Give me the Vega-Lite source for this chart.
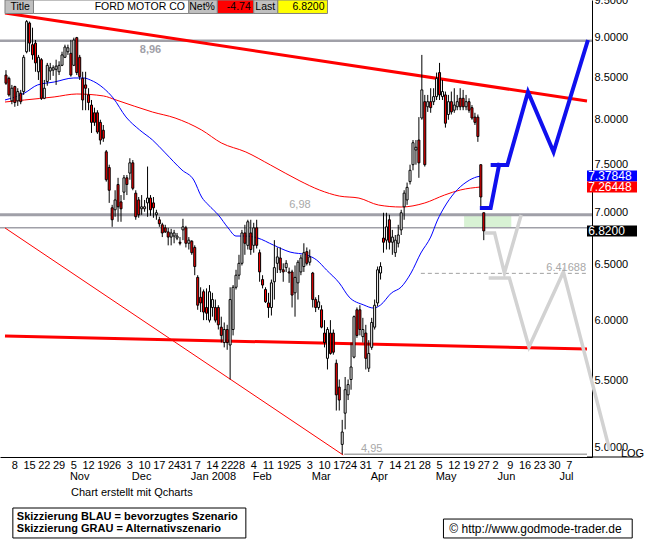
{
"$schema": "https://vega.github.io/schema/vega-lite/v6.json",
"width": 592, "height": 457,
"autosize": {"type": "none"},
"padding": {"left": 0, "top": 0, "right": 55, "bottom": 82},
"background": "white",
"config": {"view": {"stroke": null}, "font": "Liberation Sans"},
"datasets": {
"candles": [
{"i":-3,"o":8.53,"h":8.59,"l":8.41,"c":8.43},{"i":-2,"o":8.49,"h":8.51,"l":8.27,"c":8.29},{"i":-1,"o":8.22,"h":8.41,"l":8.18,"c":8.37},{"i":0,"o":8.39,"h":8.40,"l":8.15,"c":8.20},{"i":1,"o":8.22,"h":8.37,"l":8.16,"c":8.33},{"i":2,"o":8.31,"h":8.35,"l":8.18,"c":8.21},{"i":3,"o":8.33,"h":8.78,"l":8.29,"c":8.75},{"i":4,"o":8.82,"h":9.23,"l":8.80,"c":9.21},{"i":5,"o":9.19,"h":9.21,"l":8.82,"c":8.93},{"i":6,"o":8.91,"h":9.13,"l":8.72,"c":8.78},{"i":7,"o":8.93,"h":8.97,"l":8.57,"c":8.68},{"i":8,"o":8.57,"h":8.78,"l":8.47,"c":8.75},{"i":9,"o":8.72,"h":8.74,"l":8.23,"c":8.25},{"i":10,"o":8.25,"h":8.47,"l":8.24,"c":8.37},{"i":11,"o":8.45,"h":8.68,"l":8.40,"c":8.65},{"i":12,"o":8.58,"h":8.68,"l":8.47,"c":8.62},{"i":13,"o":8.59,"h":8.65,"l":8.52,"c":8.62},{"i":14,"o":8.60,"h":8.72,"l":8.41,"c":8.64},{"i":15,"o":8.57,"h":8.70,"l":8.53,"c":8.65},{"i":16,"o":8.65,"h":8.82,"l":8.64,"c":8.78},{"i":17,"o":8.75,"h":8.91,"l":8.74,"c":8.88},{"i":18,"o":8.82,"h":8.91,"l":8.78,"c":8.87},{"i":19,"o":8.80,"h":8.97,"l":8.51,"c":8.53},{"i":20,"o":8.65,"h":9.00,"l":8.64,"c":8.97},{"i":21,"o":9.00,"h":9.01,"l":8.53,"c":8.56},{"i":22,"o":8.75,"h":8.78,"l":8.47,"c":8.51},{"i":23,"o":8.49,"h":8.57,"l":8.11,"c":8.23},{"i":24,"o":8.41,"h":8.57,"l":8.11,"c":8.37},{"i":25,"o":8.29,"h":8.37,"l":8.11,"c":8.20},{"i":26,"o":8.17,"h":8.23,"l":7.85,"c":7.97},{"i":27,"o":8.08,"h":8.14,"l":7.93,"c":7.97},{"i":28,"o":8.08,"h":8.11,"l":7.84,"c":7.86},{"i":29,"o":7.97,"h":8.00,"l":7.72,"c":7.77},{"i":30,"o":7.88,"h":7.94,"l":7.75,"c":7.79},
{"i":31,"o":7.64,"h":7.66,"l":7.32,"c":7.34},{"i":32,"o":7.47,"h":7.50,"l":7.10,"c":7.23},{"i":33,"o":7.05,"h":7.08,"l":6.86,"c":6.93},{"i":34,"o":7.03,"h":7.23,"l":6.96,"c":7.13},{"i":35,"o":7.29,"h":7.36,"l":6.91,"c":7.06},{"i":36,"o":7.11,"h":7.18,"l":6.91,"c":7.04},{"i":37,"o":7.21,"h":7.39,"l":7.13,"c":7.36},{"i":38,"o":7.36,"h":7.39,"l":7.18,"c":7.29},{"i":39,"o":7.41,"h":7.57,"l":7.34,"c":7.52},{"i":40,"o":7.52,"h":7.55,"l":7.23,"c":7.25},{"i":41,"o":7.20,"h":7.23,"l":6.93,"c":6.96},{"i":42,"o":7.13,"h":7.16,"l":6.95,"c":6.98},{"i":43,"o":7.04,"h":7.18,"l":6.98,"c":7.06},{"i":44,"o":7.04,"h":7.13,"l":7.01,"c":7.06},{"i":45,"o":7.10,"h":7.48,"l":6.96,"c":7.15},{"i":46,"o":7.15,"h":7.18,"l":6.97,"c":7.03},{"i":47,"o":7.10,"h":7.16,"l":6.95,"c":7.05},{"i":48,"o":6.98,"h":7.03,"l":6.93,"c":7.00},{"i":49,"o":6.93,"h":6.96,"l":6.86,"c":6.89},{"i":50,"o":6.88,"h":6.90,"l":6.76,"c":6.80},{"i":51,"o":6.85,"h":6.88,"l":6.80,"c":6.81},{"i":52,"o":6.81,"h":6.85,"l":6.68,"c":6.76},{"i":53,"o":6.76,"h":6.84,"l":6.68,"c":6.80},{"i":54,"o":6.77,"h":6.83,"l":6.70,"c":6.80},{"i":55,"o":6.75,"h":6.80,"l":6.73,"c":6.77},{"i":56,"o":6.71,"h":6.76,"l":6.68,"c":6.70},{"i":57,"o":6.83,"h":6.94,"l":6.73,"c":6.86},{"i":58,"o":6.85,"h":6.87,"l":6.66,"c":6.70},{"i":59,"o":6.70,"h":6.76,"l":6.64,"c":6.73},{"i":60,"o":6.72,"h":6.73,"l":6.59,"c":6.61},
{"i":61,"o":6.66,"h":6.68,"l":6.40,"c":6.48},{"i":62,"o":6.38,"h":6.40,"l":6.09,"c":6.13},{"i":63,"o":6.20,"h":6.29,"l":6.07,"c":6.15},{"i":64,"o":6.25,"h":6.27,"l":6.00,"c":6.07},{"i":65,"o":6.11,"h":6.28,"l":6.00,"c":6.06},{"i":66,"o":6.00,"h":6.31,"l":5.98,"c":6.25},{"i":67,"o":6.11,"h":6.24,"l":6.03,"c":6.18},{"i":68,"o":6.11,"h":6.18,"l":5.98,"c":6.00},{"i":69,"o":6.11,"h":6.13,"l":5.92,"c":5.96},{"i":70,"o":5.94,"h":6.03,"l":5.81,"c":5.87},{"i":71,"o":5.81,"h":5.98,"l":5.77,"c":5.92},{"i":72,"o":5.92,"h":5.96,"l":5.75,"c":5.81},{"i":73,"o":5.79,"h":6.29,"l":5.51,"c":6.18},{"i":74,"o":5.92,"h":6.31,"l":5.87,"c":6.29},{"i":75,"o":6.29,"h":6.45,"l":6.27,"c":6.40},{"i":76,"o":6.40,"h":6.59,"l":6.36,"c":6.51},{"i":77,"o":6.51,"h":6.83,"l":6.49,"c":6.80},{"i":78,"o":6.80,"h":6.88,"l":6.59,"c":6.70},{"i":79,"o":6.68,"h":6.93,"l":6.64,"c":6.91},{"i":80,"o":6.80,"h":6.93,"l":6.59,"c":6.64},{"i":81,"o":6.68,"h":6.90,"l":6.61,"c":6.85},{"i":82,"o":6.85,"h":6.93,"l":6.65,"c":6.68},{"i":83,"o":6.61,"h":6.64,"l":6.34,"c":6.43},{"i":84,"o":6.36,"h":6.40,"l":6.28,"c":6.31},{"i":85,"o":6.27,"h":6.29,"l":6.15,"c":6.16},{"i":86,"o":6.15,"h":6.24,"l":6.02,"c":6.11},{"i":87,"o":6.11,"h":6.36,"l":6.04,"c":6.33},{"i":88,"o":6.34,"h":6.73,"l":6.18,"c":6.47},{"i":89,"o":6.51,"h":6.66,"l":6.42,"c":6.57},{"i":90,"o":6.56,"h":6.66,"l":6.42,"c":6.45},
{"i":91,"o":6.45,"h":6.51,"l":6.34,"c":6.43},{"i":92,"o":6.47,"h":6.54,"l":6.43,"c":6.51},{"i":93,"o":6.43,"h":6.47,"l":6.33,"c":6.42},{"i":94,"o":6.43,"h":6.45,"l":6.11,"c":6.22},{"i":95,"o":6.24,"h":6.49,"l":6.03,"c":6.38},{"i":96,"o":6.33,"h":6.54,"l":6.18,"c":6.52},{"i":97,"o":6.43,"h":6.59,"l":6.40,"c":6.56},{"i":98,"o":6.48,"h":6.70,"l":6.43,"c":6.61},{"i":99,"o":6.62,"h":6.66,"l":6.49,"c":6.51},{"i":100,"o":6.52,"h":6.64,"l":6.49,"c":6.57},{"i":101,"o":6.42,"h":6.43,"l":6.11,"c":6.18},{"i":102,"o":6.18,"h":6.20,"l":6.07,"c":6.11},{"i":103,"o":6.11,"h":6.22,"l":6.09,"c":6.16},{"i":104,"o":6.09,"h":6.13,"l":5.93,"c":5.94},{"i":105,"o":5.89,"h":6.00,"l":5.77,"c":5.81},{"i":106,"o":5.68,"h":5.94,"l":5.59,"c":5.92},{"i":107,"o":5.89,"h":6.00,"l":5.71,"c":5.72},{"i":108,"o":5.89,"h":5.92,"l":5.71,"c":5.73},{"i":109,"o":5.64,"h":5.67,"l":5.27,"c":5.39},{"i":110,"o":5.45,"h":5.51,"l":5.27,"c":5.35},{"i":111,"o":5.02,"h":5.20,"l":4.95,"c":5.11},{"i":112,"o":5.25,"h":5.53,"l":5.13,"c":5.43},{"i":113,"o":5.39,"h":5.51,"l":5.35,"c":5.47},{"i":114,"o":5.51,"h":5.81,"l":5.43,"c":5.61},{"i":115,"o":5.69,"h":6.04,"l":5.68,"c":6.03},{"i":116,"o":6.09,"h":6.11,"l":5.85,"c":5.87},{"i":117,"o":6.09,"h":6.13,"l":5.87,"c":5.92},{"i":118,"o":5.86,"h":6.02,"l":5.81,"c":5.92},{"i":119,"o":5.89,"h":5.96,"l":5.59,"c":5.68},{"i":120,"o":5.60,"h":5.83,"l":5.57,"c":5.72},
{"i":121,"o":5.77,"h":6.02,"l":5.75,"c":5.98},{"i":122,"o":5.94,"h":6.18,"l":5.92,"c":6.13},{"i":123,"o":6.15,"h":6.48,"l":6.12,"c":6.45},{"i":124,"o":6.42,"h":6.52,"l":6.36,"c":6.48},{"i":125,"o":6.75,"h":7.00,"l":6.61,"c":6.71},{"i":126,"o":6.73,"h":7.00,"l":6.64,"c":6.86},{"i":127,"o":6.93,"h":6.98,"l":6.64,"c":6.71},{"i":128,"o":6.71,"h":6.83,"l":6.59,"c":6.76},{"i":129,"o":6.61,"h":6.78,"l":6.57,"c":6.73},{"i":130,"o":6.70,"h":6.88,"l":6.66,"c":6.78},{"i":131,"o":6.83,"h":7.03,"l":6.78,"c":7.00},{"i":132,"o":7.06,"h":7.23,"l":6.93,"c":7.20},{"i":133,"o":7.13,"h":7.31,"l":7.08,"c":7.26},{"i":134,"o":7.32,"h":7.50,"l":7.29,"c":7.44},{"i":135,"o":7.50,"h":7.77,"l":7.44,"c":7.74},{"i":136,"o":7.66,"h":7.77,"l":7.50,"c":7.69},{"i":137,"o":7.77,"h":8.03,"l":7.36,"c":7.52},{"i":138,"o":8.02,"h":8.78,"l":8.00,"c":8.35},{"i":139,"o":8.21,"h":8.29,"l":7.48,"c":7.50},{"i":140,"o":8.15,"h":8.29,"l":8.09,"c":8.21},{"i":141,"o":8.21,"h":8.37,"l":8.08,"c":8.14},{"i":142,"o":8.21,"h":8.37,"l":8.17,"c":8.27},{"i":143,"o":8.27,"h":8.56,"l":8.23,"c":8.49},{"i":144,"o":8.56,"h":8.68,"l":8.23,"c":8.29},{"i":145,"o":8.27,"h":8.47,"l":8.23,"c":8.33},{"i":146,"o":8.29,"h":8.33,"l":7.91,"c":7.96},{"i":147,"o":8.06,"h":8.29,"l":8.00,"c":8.21},{"i":148,"o":8.21,"h":8.33,"l":8.06,"c":8.09},{"i":149,"o":8.11,"h":8.37,"l":8.08,"c":8.17},{"i":150,"o":8.15,"h":8.29,"l":8.11,"c":8.21},
{"i":151,"o":8.25,"h":8.37,"l":8.11,"c":8.15},{"i":152,"o":8.25,"h":8.35,"l":8.11,"c":8.15},{"i":153,"o":8.15,"h":8.29,"l":8.11,"c":8.21},{"i":154,"o":8.21,"h":8.25,"l":8.08,"c":8.11},{"i":155,"o":8.14,"h":8.17,"l":8.00,"c":8.02},{"i":156,"o":8.03,"h":8.08,"l":7.94,"c":7.97},{"i":157,"o":8.03,"h":8.06,"l":7.75,"c":7.81},{"i":158,"o":7.50,"h":7.50,"l":7.06,"c":7.16},{"i":159,"o":7.00,"h":7.00,"l":6.73,"c":6.82}
],
"ma50": [
{"i":-3.33,"v":8.23},{"i":3.33,"v":8.313},{"i":7.67,"v":8.409},{"i":13.33,"v":8.445},{"i":20,"v":8.494},{"i":23.33,"v":8.494},{"i":25.67,"v":8.469},{"i":30,"v":8.373},{"i":33.33,"v":8.254},{"i":37.67,"v":8.032},{"i":42.33,"v":7.883},{"i":46.67,"v":7.771},{"i":51,"v":7.628},{"i":56.67,"v":7.443},{"i":60.67,"v":7.337},{"i":63.33,"v":7.16},{"i":65.67,"v":7.078},{"i":69,"v":6.978},{"i":72.33,"v":6.849},{"i":75,"v":6.77},{"i":78.33,"v":6.77},{"i":82.33,"v":6.751},{"i":87.67,"v":6.683},{"i":93.33,"v":6.616},{"i":99,"v":6.588},{"i":102.33,"v":6.541},{"i":105.67,"v":6.448},{"i":110,"v":6.329},{"i":113.33,"v":6.203},{"i":118.33,"v":6.132},{"i":121.67,"v":6.105},{"i":124,"v":6.132},{"i":127.67,"v":6.238},{"i":131,"v":6.292},{"i":134.33,"v":6.42},{"i":137.67,"v":6.607},{"i":141,"v":6.76},{"i":143.33,"v":6.928},{"i":145.67,"v":7.058},{"i":149,"v":7.201},{"i":153.33,"v":7.32},{"i":156.67,"v":7.37},{"i":158,"v":7.378}
],
"ma200": [
{"i":-3.33,"v":8.206},{"i":3.33,"v":8.23},{"i":13.33,"v":8.266},{"i":21,"v":8.301},{"i":30,"v":8.278},{"i":34.33,"v":8.23},{"i":46.67,"v":8.089},{"i":54.33,"v":8.02},{"i":63.33,"v":7.883},{"i":70,"v":7.738},{"i":78.33,"v":7.638},{"i":86.67,"v":7.497},{"i":96.67,"v":7.327},{"i":103.33,"v":7.232},{"i":110,"v":7.17},{"i":116.67,"v":7.149},{"i":123.33,"v":7.078},{"i":131,"v":7.058},{"i":139,"v":7.099},{"i":145.67,"v":7.18},{"i":151,"v":7.232},{"i":158,"v":7.264}
],
"trend": [
{"line":"resistance","i":-3.333,"v":9.324},{"line":"resistance","i":194,"v":8.218},
{"line":"support","i":-3.333,"v":5.865},{"line":"support","i":194,"v":5.756}
],
"trendThin": [{"i":-3.333,"v":6.849},{"i":111.33,"v":4.944}],
"blue": [
{"path":"b1","i":157.67,"v":7.048},{"path":"b1","i":161.33,"v":7.048},{"path":"b1","i":164.33,"v":7.519},
{"path":"b2","i":161.33,"v":7.497},{"path":"b2","i":167,"v":7.497},{"path":"b2","i":174,"v":8.325},{"path":"b2","i":182.67,"v":7.638},{"path":"b2","i":194.33,"v":8.97}
],
"grey": [
{"path":"g1","i":159.33,"v":6.8},{"path":"g1","i":162.67,"v":6.8},{"path":"g1","i":166,"v":6.42},{"path":"g1","i":171.67,"v":6.978},
{"path":"g2","i":160.67,"v":6.374},{"path":"g2","i":167.67,"v":6.374},{"path":"g2","i":174.33,"v":5.773},{"path":"g2","i":186,"v":6.43},{"path":"g2","i":201.67,"v":4.98}
],
"lastvals": [
{"box":"ma50","label":"7.37848","v":7.37848},{"box":"ma200","label":"7.26448","v":7.26448},{"box":"last","label":"6.8200","v":6.82}
],
"header": [
{"cell":"Title","from":-3.333,"to":6.33},{"cell":"Name","from":6.33,"to":59},{"cell":"Net%","from":59,"to":68.67},{"cell":"Net","from":68.67,"to":81},{"cell":"Last","from":81,"to":89.17},{"cell":"LastVal","from":89.17,"to":106}
],
"weeks": [
{"d":"8","i":0},{"d":"15","i":5},{"d":"22","i":10},{"d":"29","i":15},{"d":"5","i":20},{"d":"12","i":25},{"d":"19","i":30},{"d":"26","i":34},{"d":"3","i":39},{"d":"10","i":44},{"d":"17","i":49},{"d":"24","i":54},{"d":"31","i":58},{"d":"7","i":62},{"d":"14","i":67},{"d":"22","i":72},{"d":"28","i":76},{"d":"4","i":81},{"d":"11","i":86},{"d":"19","i":91},{"d":"25","i":95},{"d":"3","i":100},{"d":"10","i":105},{"d":"17","i":110},{"d":"24","i":114},{"d":"31","i":119},{"d":"7","i":124},{"d":"14","i":129},{"d":"21","i":134},{"d":"28","i":139},{"d":"5","i":144},{"d":"12","i":149},{"d":"19","i":154},{"d":"27","i":159},{"d":"2","i":163},{"d":"9","i":168},{"d":"16","i":173},{"d":"23","i":178},{"d":"30","i":183},{"d":"7","i":188}
],
"months": [
{"m":"Nov","i":18},{"m":"Dec","i":39},{"m":"Jan 2008","i":59},{"m":"Feb","i":80},{"m":"Mar","i":100},{"m":"Apr","i":120},{"m":"May","i":142},{"m":"Jun","i":163},{"m":"Jul","i":184}
]
},
"layer": [
{"data": {"name": "candles"}, "mark": {"type": "rule", "color": "#000000", "strokeWidth": 1, "opacity": 0},
 "encoding": {
  "x": {"field": "i", "type": "quantitative", "scale": {"domain": [-3.333, 194], "nice": false, "zero": false},
   "axis": {"title": null, "grid": false, "ticks": false, "tickSize": 0, "labels": false, "domainColor": "#000000"}},
  "y": {"field": "l", "type": "quantitative", "scale": {"type": "log", "domain": [4.93, 9.5], "nice": false, "zero": false},
   "axis": {"orient": "right", "title": null, "grid": false, "ticks": false, "tickSize": 0, "labelPadding": 2, "labelAlign": "left", "labelBaseline": "middle", "labelFontSize": 11, "labelColor": "#000000", "domainColor": "#000000", "labelOverlap": false, "labelFlush": false, "labelBound": false, "format": ".4f",
    "values": [5, 5.5, 6, 6.5, 7, 7.5, 8, 8.5, 9, 9.5]}},
  "y2": {"field": "h"}}},
{"data": {"values": [{"from":152.33,"to":168.33,"lo":6.85,"hi":6.98}]},
 "mark": {"type": "rect", "color": "#d8f2d4"},
 "encoding": {"x": {"field": "from", "type": "quantitative"}, "x2": {"field": "to"}, "y": {"field": "lo", "type": "quantitative"}, "y2": {"field": "hi"}}},
{"data": {"values": [{"level": 8.96}]}, "mark": {"type": "rule", "color": "#a0a0a8", "strokeWidth": 2.5},
 "encoding": {"y": {"field": "level", "type": "quantitative"}}},
{"data": {"values": [{"level": 6.98}]}, "mark": {"type": "rule", "color": "#a0a0a8", "strokeWidth": 3},
 "encoding": {"y": {"field": "level", "type": "quantitative"}}},
{"data": {"values": [{"level": 6.85}]}, "mark": {"type": "rule", "color": "#a0a0a8", "strokeWidth": 1.5},
 "encoding": {"y": {"field": "level", "type": "quantitative"}}},
{"data": {"values": [{"level": 4.95, "from": 111.67, "to": 194}]}, "mark": {"type": "rule", "color": "#a8a8a8", "strokeWidth": 1.5},
 "encoding": {"x": {"field": "from", "type": "quantitative"}, "x2": {"field": "to"}, "y": {"field": "level", "type": "quantitative"}}},
{"data": {"values": [{"level": 6.41688, "from": 137.67, "to": 194}]}, "mark": {"type": "rule", "color": "#a0a0a0", "strokeWidth": 1, "strokeDash": [4, 3]},
 "encoding": {"x": {"field": "from", "type": "quantitative"}, "x2": {"field": "to"}, "y": {"field": "level", "type": "quantitative"}}},
{"data": {"name": "trendThin"}, "mark": {"type": "line", "color": "#ff0000", "strokeWidth": 1},
 "encoding": {"x": {"field": "i", "type": "quantitative"}, "y": {"field": "v", "type": "quantitative"}}},
{"data": {"name": "trend"}, "mark": {"type": "line", "color": "#ff0000", "strokeWidth": 3},
 "encoding": {"x": {"field": "i", "type": "quantitative"}, "y": {"field": "v", "type": "quantitative"}, "detail": {"field": "line"}}},
{"data": {"name": "ma200"}, "mark": {"type": "line", "color": "#ff0000", "strokeWidth": 1, "interpolate": "monotone"},
 "encoding": {"x": {"field": "i", "type": "quantitative"}, "y": {"field": "v", "type": "quantitative"}}},
{"data": {"name": "ma50"}, "mark": {"type": "line", "color": "#0000ff", "strokeWidth": 1, "interpolate": "monotone"},
 "encoding": {"x": {"field": "i", "type": "quantitative"}, "y": {"field": "v", "type": "quantitative"}}},
{"data": {"name": "candles"}, "mark": {"type": "rule", "color": "#000000", "strokeWidth": 1},
 "encoding": {"x": {"field": "i", "type": "quantitative"}, "y": {"field": "l", "type": "quantitative"}, "y2": {"field": "h"}}},
{"data": {"name": "candles"}, "mark": {"type": "bar", "size": 2, "stroke": "#000000", "strokeWidth": 1, "orient": "vertical"},
 "encoding": {"x": {"field": "i", "type": "quantitative"}, "y": {"field": "o", "type": "quantitative"}, "y2": {"field": "c"},
  "fill": {"condition": {"test": "datum.c < datum.o", "value": "#ff0000"}, "value": "#ffffff"}}},
{"data": {"name": "grey"}, "mark": {"type": "line", "color": "#d2d2d2", "strokeWidth": 3.5, "strokeCap": "butt"},
 "encoding": {"x": {"field": "i", "type": "quantitative"}, "y": {"field": "v", "type": "quantitative"}, "detail": {"field": "path"}}},
{"data": {"name": "blue"}, "mark": {"type": "line", "color": "#1010ee", "strokeWidth": 4, "strokeCap": "butt"},
 "encoding": {"x": {"field": "i", "type": "quantitative"}, "y": {"field": "v", "type": "quantitative"}, "detail": {"field": "path"}}},
{"data": {"values": [{"label": "8,96", "i": 46, "v": 8.96}]}, "mark": {"type": "text", "color": "#a0a0a8", "fontWeight": "bold", "fontSize": 11, "baseline": "top", "align": "center", "dy": 3},
 "encoding": {"x": {"field": "i", "type": "quantitative"}, "y": {"field": "v", "type": "quantitative"}, "text": {"field": "label"}}},
{"data": {"values": [{"label": "6,98", "i": 96.67, "v": 6.98}]}, "mark": {"type": "text", "color": "#a8a8a8", "fontSize": 11, "baseline": "alphabetic", "align": "center", "dy": -7},
 "encoding": {"x": {"field": "i", "type": "quantitative"}, "y": {"field": "v", "type": "quantitative"}, "text": {"field": "label"}}},
{"data": {"values": [{"label": "4,95", "i": 121, "v": 4.95}]}, "mark": {"type": "text", "color": "#a8a8a8", "fontSize": 11, "baseline": "alphabetic", "align": "center", "dy": -2},
 "encoding": {"x": {"field": "i", "type": "quantitative"}, "y": {"field": "v", "type": "quantitative"}, "text": {"field": "label"}}},
{"data": {"values": [{"label": "6.41688", "i": 193.67, "v": 6.41688}]}, "mark": {"type": "text", "color": "#a8a8a8", "fontSize": 11, "baseline": "alphabetic", "align": "right", "dy": -2},
 "encoding": {"x": {"field": "i", "type": "quantitative"}, "y": {"field": "v", "type": "quantitative"}, "text": {"field": "label"}}},
{"data": {"name": "lastvals"}, "mark": {"type": "point", "shape": "M0,-0.22H2V0.22H0Z", "size": 2500, "filled": true, "opacity": 1, "strokeWidth": 0},
 "encoding": {"x": {"datum": 194, "type": "quantitative"}, "y": {"field": "v", "type": "quantitative"},
  "color": {"field": "box", "type": "nominal", "legend": null, "scale": {"domain": ["ma50", "ma200", "last"], "range": ["#0000ff", "#ff0000", "#000000"]}}}},
{"data": {"name": "lastvals"}, "mark": {"type": "text", "color": "#ffffff", "fontSize": 12, "align": "left", "baseline": "middle"},
 "encoding": {"x": {"datum": 194.4, "type": "quantitative"}, "y": {"field": "v", "type": "quantitative"}, "text": {"field": "label"}}},
{"data": {"name": "header"}, "mark": {"type": "rect", "stroke": "#808080", "strokeWidth": 1},
 "encoding": {"x": {"field": "from", "type": "quantitative"}, "x2": {"field": "to"}, "y": {"datum": 9.5, "type": "quantitative"}, "y2": {"datum": 9.318},
  "fill": {"field": "cell", "type": "nominal", "legend": null, "scale": {"domain": ["Title", "Name", "Net%", "Net", "Last", "LastVal"], "range": ["#c0c0c0", "#ffffff", "#c0c0c0", "#ff0000", "#c0c0c0", "#ffff00"]}}}},
{"data": {"values": [{"label": "Title", "at": 1.83}, {"label": "Net%", "at": 63.5}, {"label": "Last", "at": 84.9}]}, "mark": {"type": "text", "color": "#000000", "fontSize": 10.5, "align": "center", "baseline": "middle"},
 "encoding": {"x": {"field": "at", "type": "quantitative"}, "y": {"datum": 9.405, "type": "quantitative"}, "text": {"field": "label"}}},
{"data": {"values": [{"label": "FORD MOTOR CO", "at": 57.67}, {"label": "-4.74", "at": 80}, {"label": "6.8200", "at": 105}]}, "mark": {"type": "text", "color": "#000000", "fontSize": 10.5, "align": "right", "baseline": "middle"},
 "encoding": {"x": {"field": "at", "type": "quantitative"}, "y": {"datum": 9.405, "type": "quantitative"}, "text": {"field": "label"}}},
{"data": {"name": "weeks"}, "mark": {"type": "text", "color": "#000000", "fontSize": 11, "align": "center", "baseline": "middle"},
 "encoding": {"x": {"field": "i", "type": "quantitative"}, "y": {"datum": 4.867, "type": "quantitative"}, "text": {"field": "d"}}},
{"data": {"name": "months"}, "mark": {"type": "text", "color": "#000000", "fontSize": 11, "align": "left", "baseline": "middle", "dx": 2},
 "encoding": {"x": {"field": "i", "type": "quantitative"}, "y": {"datum": 4.791, "type": "quantitative"}, "text": {"field": "m"}}},
{"data": {"values": [{"t": "Chart erstellt mit Qcharts"}]}, "mark": {"type": "text", "color": "#000000", "fontSize": 11, "align": "center", "baseline": "middle"},
 "encoding": {"x": {"datum": 39.67, "type": "quantitative"}, "y": {"datum": 4.682, "type": "quantitative"}, "text": {"field": "t"}}},
{"data": {"values": [{"box": "legend"}]}, "mark": {"type": "rect", "fill": "#ffffff", "stroke": "#000000", "strokeWidth": 1},
 "encoding": {"x": {"datum": -0.67, "type": "quantitative"}, "x2": {"datum": 78.33}, "y": {"datum": 4.582, "type": "quantitative"}, "y2": {"datum": 4.389}}},
{"data": {"values": [{"t": "Skizzierung BLAU = bevorzugtes Szenario", "v": 4.523}, {"t": "Skizzierung GRAU = Alternativszenario", "v": 4.446}]}, "mark": {"type": "text", "color": "#000000", "fontSize": 11, "fontWeight": "bold", "align": "left", "baseline": "middle"},
 "encoding": {"x": {"datum": 0.67, "type": "quantitative"}, "y": {"field": "v", "type": "quantitative"}, "text": {"field": "t"}}},
{"data": {"values": [{"box": "copyright"}]}, "mark": {"type": "rect", "fill": "#ffffff", "stroke": "#000000", "strokeWidth": 1},
 "encoding": {"x": {"datum": 145.33, "type": "quantitative"}, "x2": {"datum": 209.33}, "y": {"datum": 4.51, "type": "quantitative"}, "y2": {"datum": 4.389}}},
{"data": {"values": [{"t": "© http://www.godmode-trader.de"}]}, "mark": {"type": "text", "color": "#000000", "fontSize": 12, "align": "left", "baseline": "middle"},
 "encoding": {"x": {"datum": 147.33, "type": "quantitative"}, "y": {"datum": 4.449, "type": "quantitative"}, "text": {"field": "t"}}},
{"data": {"values": [{"t": "LOG"}]}, "mark": {"type": "text", "color": "#000000", "fontSize": 11, "align": "left", "baseline": "middle"},
 "encoding": {"x": {"datum": 205.5, "type": "quantitative"}, "y": {"datum": 4.95, "type": "quantitative"}, "text": {"field": "t"}}},
{"data": {"values": [{"t": "axis"}]}, "mark": {"type": "rule", "color": "#000000", "strokeWidth": 1},
 "encoding": {"x": {"datum": 194, "type": "quantitative"}, "x2": {"datum": 212.33}, "y": {"datum": 4.93, "type": "quantitative"}}}
]
}
